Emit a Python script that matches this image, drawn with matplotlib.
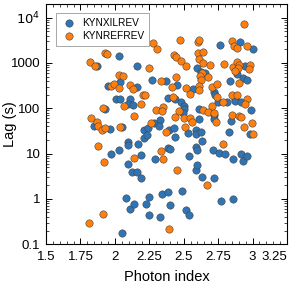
import matplotlib
matplotlib.use('Agg')
import matplotlib.pyplot as plt
from matplotlib.ticker import FixedLocator, FuncFormatter, AutoMinorLocator, LogLocator, NullFormatter

plt.rcParams['font.family'] = ['Liberation Sans', 'DejaVu Sans']

# KYNXILREV (blue)
xil_index = [1.870, 2.029, 2.159, 2.040, 1.951, 2.159, 2.009, 2.041, 2.111, 2.098,
             2.130, 1.930, 1.851, 1.964, 2.049, 2.212, 2.239, 2.210, 2.236, 2.099,
             2.099, 2.170, 2.761, 2.908, 3.002, 2.273, 2.370, 2.598, 2.623, 2.652,
             2.449, 2.565, 2.722, 2.725, 2.389, 2.440, 2.483, 2.502, 2.502, 2.493,
             2.751, 2.812, 2.870, 2.872, 2.920, 2.989, 2.841, 2.930, 2.962, 2.838,
             2.889, 2.949, 2.609, 2.722, 2.722, 2.614, 2.331, 2.283, 2.321, 2.396,
             2.430, 2.592, 2.589, 2.623, 2.440, 2.630, 2.828, 2.981, 2.531, 2.191,
             1.969, 2.029, 2.099, 2.128, 2.159, 2.191, 2.080, 2.111, 2.140, 2.230,
             2.249, 2.249, 2.051, 2.331, 2.341, 2.290, 2.389, 2.401, 2.389, 2.401,
             2.489, 2.520, 2.538, 2.770, 2.720, 2.630, 2.589, 2.599, 2.538, 2.589,
             2.599, 2.710, 2.759, 2.799, 2.859, 2.918, 2.930, 2.959, 2.859]
xil_lag = [838, 1410, 869, 383, 316, 300, 162, 164, 164, 124,
           121, 98.5, 41.6, 35.4, 39.6, 33.4, 36.7, 22.5, 25.6, 17.9,
           15.8, 15.9, 2490, 2920, 2050, 413, 397, 788, 647, 594,
           320, 270, 233, 198, 170, 158, 135, 112, 95.2, 80.4,
           140, 138, 158, 142, 140, 92.5, 52.6, 456, 416, 408,
           559, 838, 96.5, 72, 59.4, 57.3, 56.3, 46.8, 40.8, 33.4,
           36.9, 32.8, 26.4, 30.2, 22.7, 18.5, 30.7, 26.8, 28.1, 9.27,
           9.9, 11.8, 5.79, 3.92, 3.98, 2.86, 1.05, 0.59, 0.788, 0.788,
           1.12, 0.438, 0.173, 0.392, 1.288, 7.57, 13.0, 12.7, 1.40, 0.75,
           1.48, 0.582, 0.438, 0.89, 2.90, 3.05, 4.28, 5.51, 8.7, 14.1,
           11.8, 11.8, 10.2, 9.6, 7.6, 9.95, 6.84, 8.8, 1.01]

# KYNREFREV (orange)
ref_index = [1.819, 1.859, 1.930, 1.944, 2.249, 2.031, 2.060, 1.973, 1.993, 2.027,
             2.109, 2.130, 2.203, 2.221, 2.067, 2.192, 1.911, 2.140, 1.830, 1.871,
             1.880, 1.906, 1.931, 2.041, 2.280, 2.309, 2.471, 2.601, 2.614, 2.848,
             2.865, 2.889, 2.959, 2.940, 2.430, 2.442, 2.480, 2.520, 2.604, 2.640,
             2.609, 2.640, 2.688, 2.791, 2.859, 2.889, 2.901, 2.896, 2.870, 2.985,
             2.978, 2.901, 2.630, 2.618, 2.679, 2.625, 2.441, 2.339, 2.418, 2.520,
             2.611, 2.609, 2.708, 2.739, 2.744, 2.786, 2.708, 2.851, 2.889, 2.957,
             2.949, 2.848, 2.901, 2.920, 2.940, 2.993, 3.002, 2.546, 2.423, 2.469,
             2.500, 2.440, 2.299, 2.350, 2.346, 2.640, 2.679, 2.720, 2.732, 2.549,
             2.560, 2.370, 2.512, 2.788, 2.263, 1.879, 1.920, 2.140, 1.911, 1.809,
             2.338, 2.350, 2.391, 2.451, 2.670]
ref_lag = [1050, 850, 1630, 1590, 777, 531, 505, 305, 337, 285,
           328, 268, 198, 193, 113, 127, 104, 68.0, 61.9, 51.0,
           40.2, 33.7, 35.8, 39.6, 2820, 2030, 3230, 2970, 3170, 3120,
           2390, 2160, 2340, 7270, 1500, 1380, 1130, 850, 1680, 1730,
           1210, 975, 902, 965, 817, 1030, 920, 783, 660, 881,
           720, 354, 588, 513, 480, 423, 492, 407, 290, 279,
           316, 255, 290, 337, 175, 136, 112, 200, 193, 164,
           126, 71.2, 68, 65, 39.6, 48, 27.5, 208, 175, 89,
           62.5, 63.8, 90, 109, 86, 91.8, 83, 77.7, 50, 62.5,
           51, 29.7, 37.7, 16.4, 46.8, 14.4, 6.5, 8.1, 0.452, 0.293,
           11.5, 7.47, 0.219, 4.28, 2.03]

x_ticks = [1.5, 1.75, 2, 2.25, 2.5, 2.75, 3, 3.25]
y_ticks = [0.1, 1, 10, 100, 1000, 1e4]
y_tick_labels = ['0.1', '1', '10', '100', '1000', '$10^4$']

fig = plt.figure(figsize=(2.91, 2.91), dpi=100)
ax = fig.add_axes([0.158, 0.161, 0.828, 0.825])

ax.scatter(xil_index, xil_lag, s=28, color='#2f74b5', edgecolors='#444444',
           linewidths=0.4, label='KYNXILREV', zorder=3)
ax.scatter(ref_index, ref_lag, s=28, color='#ff7f0e', edgecolors='#444444',
           linewidths=0.4, label='KYNREFREV', zorder=3)

ax.set_yscale('log')
ax.set_xlim(1.5, 3.25)
ax.set_ylim(0.1, 2e4)

ax.xaxis.set_major_locator(FixedLocator(x_ticks))
ax.xaxis.set_major_formatter(FuncFormatter(lambda v, p: '%g' % v))
ax.xaxis.set_minor_locator(AutoMinorLocator(5))
ax.yaxis.set_major_locator(FixedLocator(y_ticks))
ax.yaxis.set_major_formatter(FuncFormatter(
    lambda v, p: y_tick_labels[y_ticks.index(v)] if v in y_ticks else ''))
ax.yaxis.set_minor_locator(LogLocator(base=10, subs=range(2, 10)))
ax.yaxis.set_minor_formatter(NullFormatter())

ax.tick_params(which='both', direction='in', top=True, right=True, labelsize=9.5)
ax.tick_params(axis='x', pad=5)
ax.tick_params(axis='y', pad=4)
ax.tick_params(which='major', length=4.5, width=0.7)
ax.tick_params(which='minor', length=2.2, width=0.5)

# keep the last x label inside the figure, as in the original
fig.canvas.draw()
ax.get_xticklabels()[-1].set_horizontalalignment('right')

ax.set_xlabel('Photon index', fontsize=10.5, labelpad=5)
ax.set_ylabel('Lag (s)', fontsize=10.5, labelpad=0)
ax.yaxis.set_label_coords(-0.12, 0.5)

for spine in ax.spines.values():
    spine.set_color('black')
    spine.set_linewidth(0.8)

leg = ax.legend(loc='upper left', fontsize=7.3, fancybox=False, framealpha=1,
                edgecolor='#999999', borderpad=0.5, handletextpad=0.6,
                bbox_to_anchor=(0.02, 0.985), labelspacing=0.3, handlelength=1.5)
leg.get_frame().set_linewidth(0.6)

fig.savefig('out.png', dpi=100, facecolor='white')
